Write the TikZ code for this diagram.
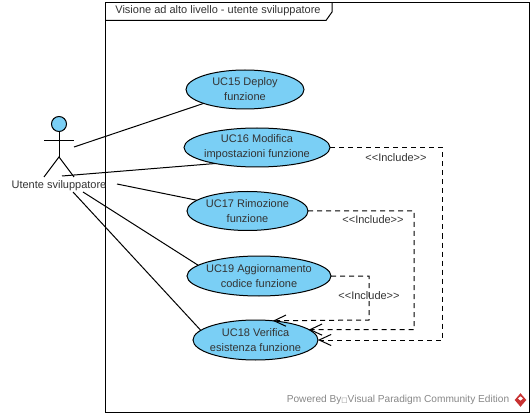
\documentclass[tikz,border=0pt]{standalone}
\usepackage{fontspec}
\setmainfont{Liberation Sans}
\newfontfamily\boxfont{DejaVu Sans}
\usepackage{tikz}
\usetikzlibrary{positioning,arrows.meta,shapes.geometric}
\definecolor{ucblue}{RGB}{122,207,245}
\definecolor{wmgray}{RGB}{135,135,135}
\definecolor{wmred}{RGB}{200,50,50}
\tikzset{
  usecase/.style={ellipse,draw,fill=ucblue,inner ysep=0pt,inner xsep=-8pt,outer sep=0pt,align=center,text=black!80},
  label/.style={inner sep=0pt,align=center,text=black!80},
  include/.style={dashed,dash pattern=on 3.75pt off 3pt,-{Straight Barb[length=9pt,width=9.5pt,angle'=50]}},
}
\begin{document}
\begin{tikzpicture}[x=0.75pt,y=-0.75pt,line width=0.75pt,font=\fontsize{8.25}{11.25}\selectfont]
    \useasboundingbox (0,0) rectangle (532,417);
    % frame and its title tab
    \draw (105.5,2.5) rectangle (529,412.5);
    \draw (105.5,20.5) -- (326,20.5) -- (332,12) -- (332,2.5);
    \node[label] (title) at (218,11) {Visione ad alto livello - utente sviluppatore};

    % actor
    \node[circle,draw,fill=ucblue,minimum size=11.25pt,inner sep=0pt,outer sep=0pt] (head) at (59,124) {};
    \coordinate (hip) at (59,157);
    \coordinate (armL) at (44,141);
    \coordinate (armR) at (74,141);
    \coordinate (legL) at (44,177);
    \coordinate (legR) at (74,177);
    \node[label] (actor) at (59,185.5) {Utente sviluppatore};
    \draw (head) -- (hip);
    \draw (armL) -- (armR);
    \draw (legL) -- (hip) -- (legR);

    % use cases
    \node[usecase,minimum width=88.5pt,minimum height=29.25pt] (uc15) at (245,89.5) {UC15 Deploy\\ funzione};
    \node[usecase,minimum width=109.5pt,minimum height=29.25pt] (uc16) at (257,147.5) {UC16 Modifica\\ impostazioni funzione};
    \node[usecase,minimum width=90.75pt,minimum height=29.25pt] (uc17) at (247.5,211) {UC17 Rimozione\\ funzione};
    \node[usecase,minimum width=108pt,minimum height=30pt] (uc19) at (259,276) {UC19 Aggiornamento\\ codice funzione};
    \node[usecase,minimum width=93.75pt,minimum height=30pt] (uc18) at (255.5,340) {UC18 Verifica\\ esistenza funzione};

    % free ends at the actor
    \coordinate (from15) at (74,147);
    \coordinate (from16) at (62,176);
    \coordinate (from17) at (117,184);
    \coordinate (from19) at (83,192);
    \coordinate (from18) at (73,192);
    % paths from actor to use cases
    \path
    (from15) edge (uc15)
    (from16) edge (uc16.201)
    (from17) edge (uc17.168)
    (from19) edge (uc19.170)
    (from18) edge (uc18.170);

    % bends of the include paths
    \coordinate (bend16) at (442,340);
    \coordinate (bend17) at (414,329.5);
    \coordinate (bend19) at (369,320);
    % paths for include
    \draw[include] (uc16.east) -| (bend16) -- (uc18.east);
    \draw[include] (uc17.east) -| (bend17) -- (uc18.11);
    \draw[include] (uc19.east) -| (bend19) -- (uc18.48);

    \node[label] (inc16) at (396,158) {<{}<Include>{}>};
    \node[label] (inc17) at (373,220) {<{}<Include>{}>};
    \node[label] (inc19) at (369,296) {<{}<Include>{}>};

    % watermark
    \node[inner sep=0pt,text=wmgray,font=\fontsize{7.6}{9}\selectfont] (powered) at (398,400) {Powered By{\boxfont\fontsize{5}{6}\selectfont □}Visual Paradigm Community Edition};
    \node[diamond,fill=wmred,minimum width=9pt,minimum height=10.5pt,inner sep=0pt] (logo) at (520.5,400) {};
    \node[diamond,fill=white,minimum width=4pt,minimum height=3.5pt,inner sep=0pt] (logoin) at (520.5,398.5) {};
\end{tikzpicture}
\end{document}
